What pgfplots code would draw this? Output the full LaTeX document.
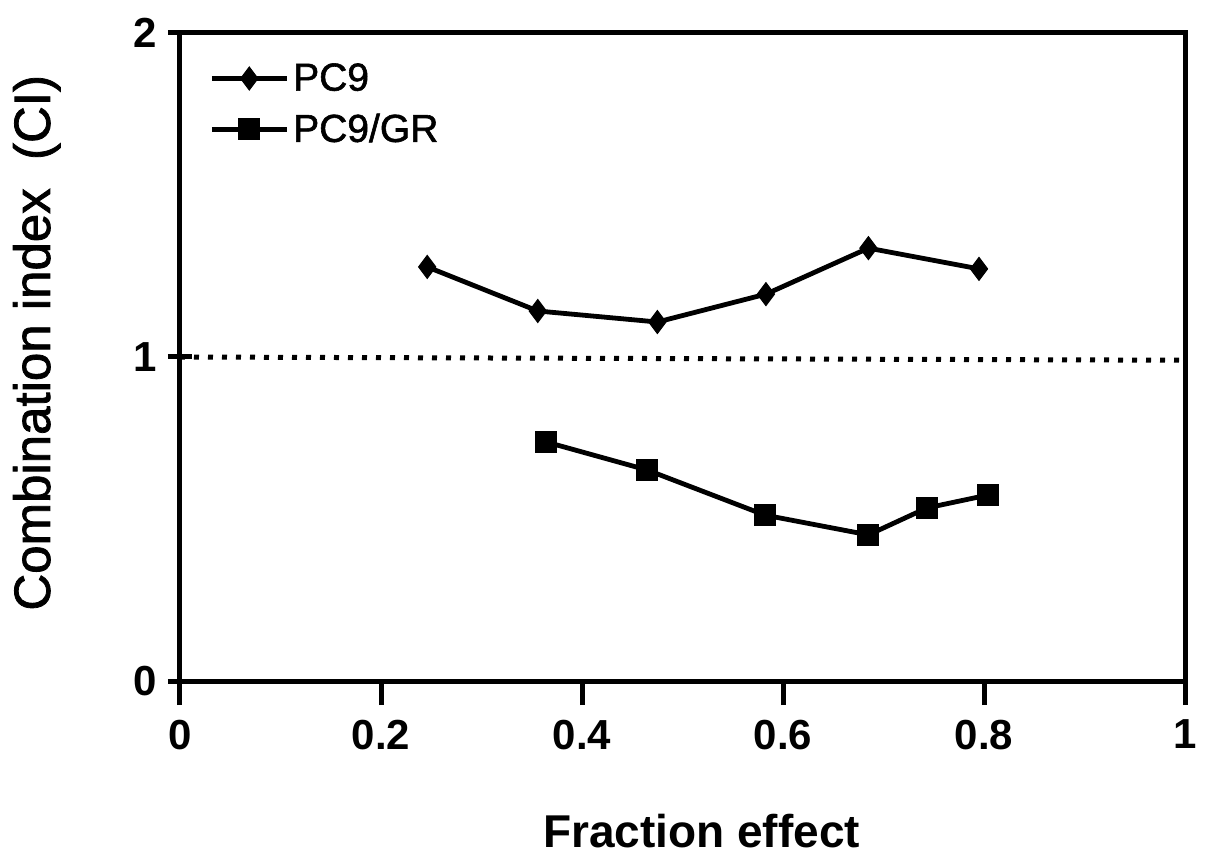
\documentclass[border=0pt]{standalone}
\usepackage{fontspec}
\setmainfont{Liberation Sans}
\usepackage{pgfplots}
\pgfplotsset{compat=1.18}
\begin{document}
\begin{tikzpicture}
\begin{axis}[
  scale only axis, width=502.5pt, height=324pt,
  at={(0pt,0pt)}, anchor=south west,
  xmin=0, xmax=1, ymin=0, ymax=2,
  xtick={0,0.2,0.4,0.6,0.8,1},
  ytick={0,1,2},
  tick pos=left,
  xtick align=outside,
  ytick align=center,
  major tick length=12pt,
  axis line style={line width=2.5pt},
  every tick/.style={black, line width=2.5pt},
  /pgf/number format/assume math mode=true,
  tick label style={font=\fontsize{21}{25}\selectfont\bfseries},
  xticklabel style={yshift=-4pt},
  yticklabel style={xshift=-2pt},
  xlabel={Fraction effect},
  xlabel style={at={(axis description cs:0.519,-0.2562)}, anchor=base, font=\fontsize{23}{27}\selectfont\bfseries},
  ylabel={Combination index\ \ (CI)},
  ylabel style={at={(axis description cs:-0.1294,0.522)}, anchor=base, rotate=0, font=\fontsize{25.5}{30}\selectfont\addfontfeature{FakeBold=1.5}},
  legend style={at={(axis description cs:0,1)}, anchor=north west, draw=none, fill=none,
    font=\fontsize{19.5}{22}\selectfont\addfontfeature{FakeBold=1.5}, row sep=6pt, xshift=11.5pt, yshift=-11pt},
  legend cell align=left,
  legend image code/.code={\draw[mark repeat=2,mark phase=2,#1] plot coordinates {(0pt,0pt) (18.75pt,0pt) (37.5pt,0pt)};},
]
\addplot[black, line width=2.4pt, mark=diamond*, mark size=5.75pt, mark options={solid, line width=0.5pt}]
  coordinates {(0.246,1.278) (0.356,1.142) (0.475,1.108) (0.583,1.194) (0.685,1.336) (0.795,1.272)};
\addlegendentry{PC9}
\addplot[black, line width=2.4pt, mark=square*, mark size=5.25pt, mark options={solid, line width=0.5pt}]
  coordinates {(0.364,0.738) (0.465,0.651) (0.582,0.512) (0.685,0.451) (0.743,0.534) (0.804,0.574)};
\addlegendentry{PC9/GR}
\addplot[black, line width=2.5pt, dash pattern=on 2.5pt off 4.5pt, forget plot]
  coordinates {(0,1) (1,0.99)};
\end{axis}
\pgfresetboundingbox
\useasboundingbox (-90pt,-90.5pt) rectangle (512.5pt,340.5pt);
\end{tikzpicture}
\end{document}
